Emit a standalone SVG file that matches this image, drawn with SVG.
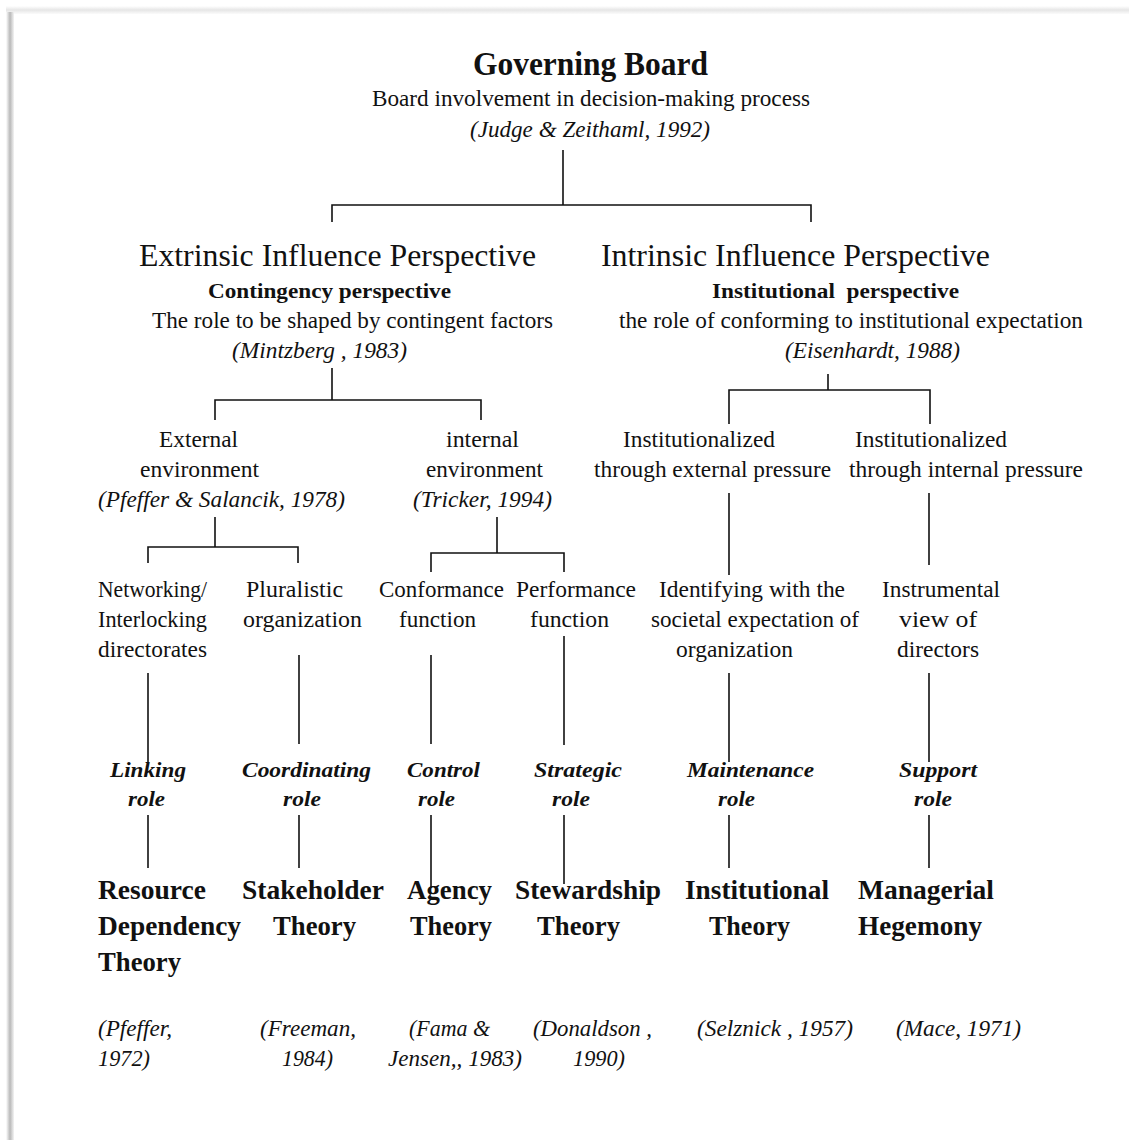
<svg xmlns="http://www.w3.org/2000/svg" width="1129" height="1140" viewBox="0 0 1129 1140">
<defs>
<linearGradient id="lshadow" x1="0" x2="1" y1="0" y2="0">
<stop offset="0" stop-color="#ffffff"/>
<stop offset="0.5" stop-color="#b8b8b8"/>
<stop offset="1" stop-color="#f4f4f4"/>
</linearGradient>
<linearGradient id="tshadow" x1="0" x2="0" y1="0" y2="1">
<stop offset="0" stop-color="#ffffff"/>
<stop offset="0.5" stop-color="#e6e6e6"/>
<stop offset="1" stop-color="#fbfbfb"/>
</linearGradient>
</defs>
<style>
text{font-family:"Liberation Serif","Times New Roman",serif;fill:#111}
.t{font-size:33px;font-weight:bold}
.p{font-size:31px}
.b{font-size:22px;font-weight:bold}
.r{font-size:22.5px}
.i{font-size:22.5px;font-style:italic}
.role{font-size:21.5px;font-style:italic;font-weight:bold}
.th{font-size:27px;font-weight:bold}
.c{font-size:23px;font-style:italic}
.ln{stroke:#111;stroke-width:1.6;fill:none}
</style>
<rect width="1129" height="1140" fill="#ffffff"/>
<rect x="6" y="6" width="1123" height="8" fill="url(#tshadow)"/>
<rect x="6" y="12" width="8" height="1128" fill="url(#lshadow)"/>

<g id="connectors">
<path class="ln" d="M563 150V205M332 222V205H811V222"/>
<path class="ln" d="M332 368V400M215 420V400H481V420"/>
<path class="ln" d="M828 374V390M729 424V390H930V424"/>
<path class="ln" d="M215 517V547M148 563V547H298V563"/>
<path class="ln" d="M497 517V553M431 572V553H564V572"/>
<path class="ln" d="M729 493V575"/>
<path class="ln" d="M929 493V565"/>
<path class="ln" d="M148 673V762"/>
<path class="ln" d="M299 655V744"/>
<path class="ln" d="M431 655V744"/>
<path class="ln" d="M564 636V745"/>
<path class="ln" d="M729 673V762"/>
<path class="ln" d="M929 673V762"/>
<path class="ln" d="M148 815V868"/>
<path class="ln" d="M299 815V868"/>
<path class="ln" d="M431 815V888"/>
<path class="ln" d="M564 815V884"/>
<path class="ln" d="M729 815V868"/>
<path class="ln" d="M929 815V868"/>
</g>

<g id="governing-board">
<text class="t" x="473" y="75" textLength="235" lengthAdjust="spacingAndGlyphs">Governing Board</text>
<text class="r" x="372" y="106" textLength="438" lengthAdjust="spacingAndGlyphs">Board involvement in decision-making process</text>
<text class="i" x="470" y="137" textLength="240" lengthAdjust="spacingAndGlyphs">(Judge &amp; Zeithaml, 1992)</text>
</g>

<g id="extrinsic">
<text class="p" x="139" y="266" textLength="397" lengthAdjust="spacingAndGlyphs">Extrinsic Influence Perspective</text>
<text class="b" x="208" y="298" textLength="243" lengthAdjust="spacingAndGlyphs">Contingency perspective</text>
<text class="r" x="152" y="328" textLength="401" lengthAdjust="spacingAndGlyphs">The role to be shaped by contingent factors</text>
<text class="i" x="232" y="358" textLength="175" lengthAdjust="spacingAndGlyphs">(Mintzberg , 1983)</text>
</g>

<g id="intrinsic">
<text class="p" x="601" y="266" textLength="389" lengthAdjust="spacingAndGlyphs">Intrinsic Influence Perspective</text>
<text class="b" x="712" y="298" textLength="247" lengthAdjust="spacingAndGlyphs" xml:space="preserve">Institutional  perspective</text>
<text class="r" x="619" y="328" textLength="464" lengthAdjust="spacingAndGlyphs">the role of conforming to institutional expectation</text>
<text class="i" x="785" y="358" textLength="175" lengthAdjust="spacingAndGlyphs">(Eisenhardt, 1988)</text>
</g>

<g id="external-environment">
<text class="r" x="159" y="447" textLength="79" lengthAdjust="spacingAndGlyphs">External</text>
<text class="r" x="140" y="477" textLength="119" lengthAdjust="spacingAndGlyphs">environment</text>
<text class="i" x="98" y="507" textLength="247" lengthAdjust="spacingAndGlyphs">(Pfeffer &amp; Salancik, 1978)</text>
</g>

<g id="internal-environment">
<text class="r" x="446" y="447" textLength="73" lengthAdjust="spacingAndGlyphs">internal</text>
<text class="r" x="426" y="477" textLength="117" lengthAdjust="spacingAndGlyphs">environment</text>
<text class="i" x="413" y="507" textLength="139" lengthAdjust="spacingAndGlyphs">(Tricker, 1994)</text>
</g>

<g id="inst-external">
<text class="r" x="623" y="447" textLength="152" lengthAdjust="spacingAndGlyphs">Institutionalized</text>
<text class="r" x="594" y="477" textLength="237" lengthAdjust="spacingAndGlyphs">through external pressure</text>
</g>

<g id="inst-internal">
<text class="r" x="855" y="447" textLength="152" lengthAdjust="spacingAndGlyphs">Institutionalized</text>
<text class="r" x="849" y="477" textLength="234" lengthAdjust="spacingAndGlyphs">through internal pressure</text>
</g>

<g id="networking">
<text class="r" x="98" y="597" textLength="109" lengthAdjust="spacingAndGlyphs">Networking/</text>
<text class="r" x="98" y="627" textLength="109" lengthAdjust="spacingAndGlyphs">Interlocking</text>
<text class="r" x="98" y="657" textLength="109" lengthAdjust="spacingAndGlyphs">directorates</text>
</g>

<g id="pluralistic">
<text class="r" x="246" y="597" textLength="97" lengthAdjust="spacingAndGlyphs">Pluralistic</text>
<text class="r" x="243" y="627" textLength="119" lengthAdjust="spacingAndGlyphs">organization</text>
</g>

<g id="conformance">
<text class="r" x="379" y="597" textLength="125" lengthAdjust="spacingAndGlyphs">Conformance</text>
<text class="r" x="399" y="627" textLength="77" lengthAdjust="spacingAndGlyphs">function</text>
</g>

<g id="performance">
<text class="r" x="516" y="597" textLength="120" lengthAdjust="spacingAndGlyphs">Performance</text>
<text class="r" x="530" y="627" textLength="79" lengthAdjust="spacingAndGlyphs">function</text>
</g>

<g id="identifying">
<text class="r" x="659" y="597" textLength="186" lengthAdjust="spacingAndGlyphs">Identifying with the</text>
<text class="r" x="651" y="627" textLength="208" lengthAdjust="spacingAndGlyphs">societal expectation of</text>
<text class="r" x="676" y="657" textLength="117" lengthAdjust="spacingAndGlyphs">organization</text>
</g>

<g id="instrumental">
<text class="r" x="882" y="597" textLength="118" lengthAdjust="spacingAndGlyphs">Instrumental</text>
<text class="r" x="899" y="627" textLength="78" lengthAdjust="spacingAndGlyphs">view of</text>
<text class="r" x="897" y="657" textLength="82" lengthAdjust="spacingAndGlyphs">directors</text>
</g>

<g id="linking-role">
<text class="role" x="110" y="777" textLength="76" lengthAdjust="spacingAndGlyphs">Linking</text>
<text class="role" x="128" y="806" textLength="37" lengthAdjust="spacingAndGlyphs">role</text>
</g>
<g id="coordinating-role">
<text class="role" x="242" y="777" textLength="129" lengthAdjust="spacingAndGlyphs">Coordinating</text>
<text class="role" x="283" y="806" textLength="38" lengthAdjust="spacingAndGlyphs">role</text>
</g>
<g id="control-role">
<text class="role" x="407" y="777" textLength="73" lengthAdjust="spacingAndGlyphs">Control</text>
<text class="role" x="418" y="806" textLength="37" lengthAdjust="spacingAndGlyphs">role</text>
</g>
<g id="strategic-role">
<text class="role" x="534" y="777" textLength="88" lengthAdjust="spacingAndGlyphs">Strategic</text>
<text class="role" x="552" y="806" textLength="38" lengthAdjust="spacingAndGlyphs">role</text>
</g>
<g id="maintenance-role">
<text class="role" x="687" y="777" textLength="127" lengthAdjust="spacingAndGlyphs">Maintenance</text>
<text class="role" x="718" y="806" textLength="37" lengthAdjust="spacingAndGlyphs">role</text>
</g>
<g id="support-role">
<text class="role" x="899" y="777" textLength="78" lengthAdjust="spacingAndGlyphs">Support</text>
<text class="role" x="914" y="806" textLength="38" lengthAdjust="spacingAndGlyphs">role</text>
</g>

<g id="resource-dependency">
<text class="th" x="98" y="899" textLength="108" lengthAdjust="spacingAndGlyphs">Resource</text>
<text class="th" x="98" y="935" textLength="143" lengthAdjust="spacingAndGlyphs">Dependency</text>
<text class="th" x="98" y="971" textLength="83" lengthAdjust="spacingAndGlyphs">Theory</text>
</g>
<g id="stakeholder">
<text class="th" x="242" y="899" textLength="142" lengthAdjust="spacingAndGlyphs">Stakeholder</text>
<text class="th" x="273" y="935" textLength="83" lengthAdjust="spacingAndGlyphs">Theory</text>
</g>
<g id="agency">
<text class="th" x="407" y="899" textLength="85" lengthAdjust="spacingAndGlyphs">Agency</text>
<text class="th" x="410" y="935" textLength="82" lengthAdjust="spacingAndGlyphs">Theory</text>
</g>
<g id="stewardship">
<text class="th" x="515" y="899" textLength="146" lengthAdjust="spacingAndGlyphs">Stewardship</text>
<text class="th" x="537" y="935" textLength="83" lengthAdjust="spacingAndGlyphs">Theory</text>
</g>
<g id="institutional">
<text class="th" x="685" y="899" textLength="144" lengthAdjust="spacingAndGlyphs">Institutional</text>
<text class="th" x="709" y="935" textLength="81" lengthAdjust="spacingAndGlyphs">Theory</text>
</g>
<g id="managerial">
<text class="th" x="858" y="899" textLength="136" lengthAdjust="spacingAndGlyphs">Managerial</text>
<text class="th" x="858" y="935" textLength="124" lengthAdjust="spacingAndGlyphs">Hegemony</text>
</g>

<g id="citations">
<text class="c" x="98" y="1036" textLength="74" lengthAdjust="spacingAndGlyphs">(Pfeffer,</text>
<text class="c" x="98" y="1066" textLength="52" lengthAdjust="spacingAndGlyphs">1972)</text>
<text class="c" x="260" y="1036" textLength="96" lengthAdjust="spacingAndGlyphs">(Freeman,</text>
<text class="c" x="282" y="1066" textLength="51" lengthAdjust="spacingAndGlyphs">1984)</text>
<text class="c" x="409" y="1036" textLength="81" lengthAdjust="spacingAndGlyphs">(Fama &amp;</text>
<text class="c" x="388" y="1066" textLength="134" lengthAdjust="spacingAndGlyphs">Jensen,, 1983)</text>
<text class="c" x="533" y="1036" textLength="119" lengthAdjust="spacingAndGlyphs">(Donaldson ,</text>
<text class="c" x="573" y="1066" textLength="52" lengthAdjust="spacingAndGlyphs">1990)</text>
<text class="c" x="697" y="1036" textLength="156" lengthAdjust="spacingAndGlyphs">(Selznick , 1957)</text>
<text class="c" x="896" y="1036" textLength="125" lengthAdjust="spacingAndGlyphs">(Mace, 1971)</text>
</g>
</svg>
